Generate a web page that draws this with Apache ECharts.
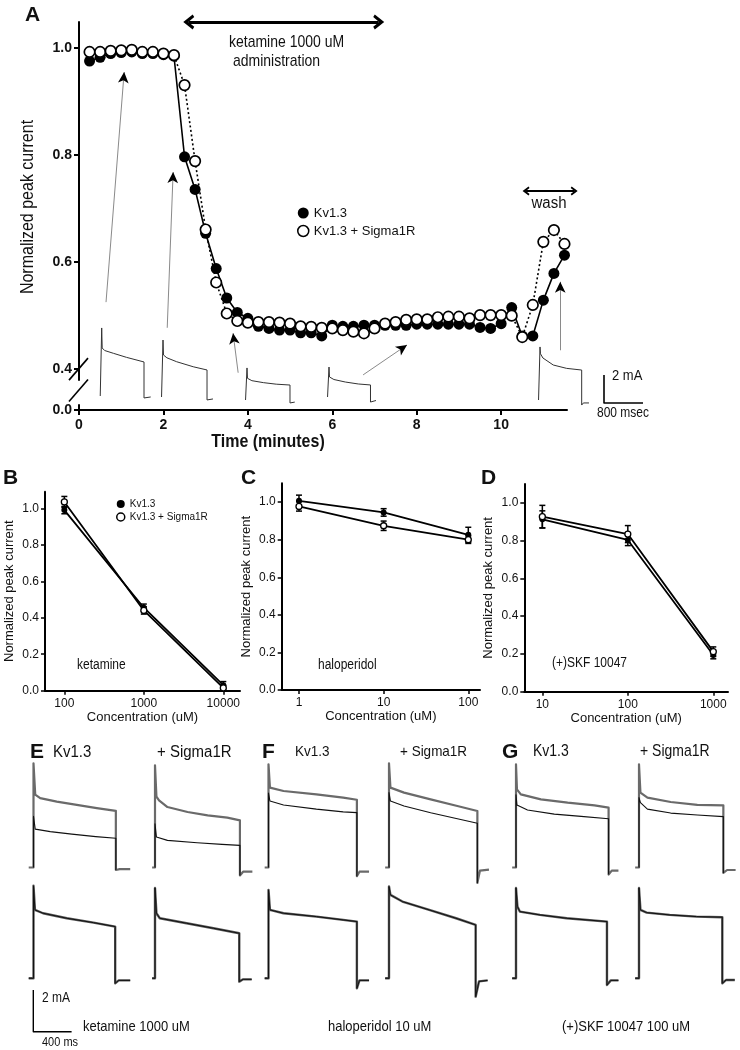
<!DOCTYPE html>
<html>
<head>
<meta charset="utf-8">
<script src="https://cdn.jsdelivr.net/npm/echarts@6.0.0/dist/echarts.min.js"></script>
<style>
html,body{margin:0;padding:0;background:#fff;}
#chart{width:740px;height:1050px;}
</style>
</head>
<body>
<div id="chart"></div>
<script>
// ================= DATA =================
// Panel A: normalized peak current vs time (minutes)
const timeA = [0.25,0.5,0.75,1.0,1.25,1.5,1.75,2.0,2.25,2.5,2.75,3.0,3.25,3.5,3.75,4.0,4.25,4.5,4.75,5.0,5.25,5.5,5.75,6.0,6.25,6.5,6.75,7.0,7.25,7.5,7.75,8.0,8.25,8.5,8.75,9.0,9.25,9.5,9.75,10.0,10.25,10.5,10.75,11.0,11.25,11.5];
const kvA  = [0.976,0.983,0.990,0.992,0.993,0.990,0.990,0.988,0.985,0.797,0.736,0.654,0.588,0.533,0.506,0.495,0.480,0.476,0.473,0.473,0.468,0.468,0.462,0.482,0.480,0.480,0.482,0.482,0.482,0.482,0.482,0.484,0.484,0.484,0.484,0.484,0.484,0.478,0.476,0.485,0.515,0.462,0.462,0.529,0.579,0.613];
const sigA = [0.993,0.993,0.995,0.996,0.997,0.993,0.993,0.990,0.987,0.931,0.789,0.661,0.562,0.504,0.490,0.487,0.488,0.488,0.487,0.485,0.480,0.479,0.477,0.476,0.473,0.470,0.467,0.476,0.485,0.488,0.492,0.493,0.493,0.497,0.498,0.498,0.495,0.501,0.501,0.501,0.500,0.460,0.520,0.638,0.660,0.634];
const xTicksA = [0, 2, 4, 6, 8, 10];
const yTicksA = [0, 0.4, 0.6, 0.8, 1.0];
// annotation arrows of panel A, in (minutes, normalized current)
const traceArrowsA = [[[0.64,0.525],[1.07,0.955]],[[2.09,0.477],[2.23,0.768]],[[3.77,0.393],[3.65,0.467]],[[6.73,0.389],[7.77,0.445]],[[11.4,0.435],[11.4,0.563]]];
const ketamineSpanA = [[2.6,1.0486],[7.1,1.0486]];
const washSpanA = [[10.59,0.7327],[11.73,0.7327]];

// Panels B-D: dose response (mean, error)
const yTicksDose = [0, 0.2, 0.4, 0.6, 0.8, 1.0];
const concB = [100, 1000, 10000];
const kvB = [0.99, 0.455, 0.03];    const kvBerr = [0.02, 0.02, 0.02];
const sigB = [1.035, 0.44, 0.015];  const sigBerr = [0.03, 0.02, 0.015];
const concC = [1, 10, 100];
const kvC = [1.007, 0.945, 0.826];  const kvCerr = [0.03, 0.02, 0.04];
const sigC = [0.977, 0.874, 0.80];  const sigCerr = [0.025, 0.025, 0.02];
const concD = [10, 100, 1000];
const kvD = [0.912, 0.803, 0.194];  const kvDerr = [0.045, 0.03, 0.02];
const sigD = [0.926, 0.834, 0.212]; const sigDerr = [0.06, 0.045, 0.025];

// Current traces [time ms, current mA]
const trA1 = [[-30,0],[0,0],[0,4.86],[10,3.43],[60,3.25],[240,3.05],[510,2.76],[868,2.43],[868,-0.14],[900,-0.08],[1005,-0.07]];
const trA2 = [[-30,0],[0,0],[0,4.07],[10,3.0],[80,2.8],[280,2.52],[620,2.16],[903,1.93],[903,-0.21],[940,-0.14],[1025,-0.14]];
const trA3 = [[-30,0],[0,0],[0,2.29],[10,1.55],[100,1.38],[335,1.24],[600,1.13],[882,1.07],[882,-0.21],[920,-0.15],[980,-0.15]];
const trA4 = [[-30,0],[0,0],[0,2.14],[10,1.43],[100,1.25],[335,1.07],[600,0.93],[851,0.86],[851,-0.36],[890,-0.25],[964,-0.25]];
const trA5 = [[-30,0],[0,0],[0,3.79],[10,3.3],[60,3.0],[272,2.5],[546,2.26],[855,2.14],[855,-0.36],[890,-0.21],[1005,-0.21]];
const scaleBarA = [[0,2],[0,0],[800,0]];

const trE_kv_ctrl = [[-50,0],[0,0],[0,5.0],[18,3.5],[70,3.33],[243,3.16],[452,3.0],[661,2.85],[860,2.72],[860,-0.12],[900,-0.08],[1010,-0.08]];
const trE_kv_drug = [[0,0],[0,2.45],[18,1.84],[175,1.72],[400,1.6],[650,1.48],[860,1.4],[860,-0.12]];
const trE_sg_ctrl = [[-30,0],[0,0],[0,4.9],[15,3.4],[42,3.22],[130,2.9],[340,2.66],[550,2.5],[755,2.39],[887,2.26],[887,-0.38],[920,-0.2],[1017,-0.2]];
const trE_sg_drug = [[0,0],[0,2.1],[15,1.46],[130,1.3],[440,1.19],[700,1.11],[887,1.06],[887,-0.38]];
const trF_kv_ctrl = [[-40,0],[0,0],[0,4.95],[15,3.83],[157,3.67],[500,3.51],[780,3.35],[923,3.25],[923,-0.42],[950,-0.2],[1050,-0.2]];
const trF_kv_drug = [[0,0],[0,3.57],[15,3.19],[157,3.0],[500,2.8],[780,2.67],[923,2.63],[923,-0.42]];
const trF_sg_ctrl = [[-40,0],[0,0],[0,5.0],[15,3.83],[157,3.59],[435,3.27],[714,2.95],[923,2.71],[923,-0.74],[950,-0.15],[1044,-0.1]];
const trF_sg_drug = [[0,0],[0,3.59],[15,3.19],[157,2.95],[435,2.63],[714,2.34],[923,2.12],[923,-0.74]];
const trG_kv_ctrl = [[-40,0],[0,0],[0,4.95],[10,3.75],[50,3.51],[260,3.27],[540,3.11],[820,2.98],[967,2.87],[967,-0.34],[1000,-0.15],[1070,-0.15]];
const trG_kv_drug = [[0,0],[0,3.49],[10,3.0],[120,2.76],[400,2.56],[680,2.45],[967,2.34],[967,-0.34]];
const trG_sg_ctrl = [[-40,0],[0,0],[0,4.95],[15,3.59],[88,3.35],[331,3.14],[609,3.0],[881,2.98],[881,-0.26],[920,-0.12],[1009,-0.12]];
const trG_sg_drug = [[0,0],[0,3.35],[15,3.11],[88,2.8],[331,2.61],[609,2.52],[881,2.44],[881,-0.26]];
const trE_kv_low = [[-50,0],[0,0],[0,4.44],[15,3.28],[100,3.12],[348,2.88],[626,2.67],[853,2.48],[853,-0.24],[890,-0.1],[1010,-0.1]];
const trE_sg_low = [[-30,0],[0,0],[0,4.33],[15,3.12],[50,2.88],[330,2.64],[610,2.4],[880,2.16],[880,-0.16],[920,-0.05],[1010,-0.05]];
const trF_kv_low = [[-40,0],[0,0],[0,4.24],[15,3.28],[157,3.12],[500,2.96],[780,2.8],[923,2.72],[923,-0.48],[950,-0.1],[1050,-0.1]];
const trF_sg_low = [[-40,0],[0,0],[0,4.4],[15,4.0],[140,3.68],[420,3.28],[700,2.88],[905,2.56],[905,-0.88],[940,-0.15],[1030,-0.1]];
const trG_kv_low = [[-40,0],[0,0],[0,4.33],[15,3.44],[40,3.2],[250,3.04],[530,2.88],[950,2.72],[950,-0.32],[990,-0.1],[1070,-0.1]];
const trG_sg_low = [[-40,0],[0,0],[0,4.33],[15,3.28],[80,3.15],[320,3.04],[600,2.96],[870,2.93],[870,-0.24],[910,-0.08],[1000,-0.08]];
const scaleBarE = [[0,2],[0,0],[400,0]];

// ================= BUILD =================
const FONT = "'Liberation Sans', Arial, Helvetica, sans-serif";
const INK = '#111';
const grids = [], xAxes = [], yAxes = [], series = [];
function addGrid(rect, xa, ya) {
  grids.push(Object.assign({containLabel:false, outerBoundsMode:'none'}, rect));
  const gi = grids.length - 1;
  xAxes.push(Object.assign({gridIndex:gi}, xa));
  yAxes.push(Object.assign({gridIndex:gi}, ya));
  return gi;
}
function axLine(w){ return {show:true, onZero:false, lineStyle:{color:'#000', width:w}}; }

// ---- Panel A main plot (grid 0)
addGrid({left:79, top:22, width:488, height:388},
  {type:'value', min:0, max:11.56,
   axisLine:axLine(2),
   axisTick:{show:true, inside:false, length:5, customValues:xTicksA, lineStyle:{color:'#000', width:2}},
   axisLabel:{customValues:xTicksA, fontSize:14, fontWeight:'bold', color:INK, fontFamily:FONT, margin:8},
   splitLine:{show:false}},
  {type:'value', min:0, max:1.049,
   breaks:[{start:0.01, end:0.38, gap:'6.4%'}],
   breakArea:{show:false},
   axisLine:axLine(2),
   axisTick:{show:true, inside:false, length:5, customValues:yTicksA, lineStyle:{color:'#000', width:2}},
   axisLabel:{customValues:yTicksA, formatter:v=>v.toFixed(1), fontSize:14, fontWeight:'bold', color:INK, fontFamily:FONT, margin:7},
   splitLine:{show:false}});
series.push({name:'Kv1.3', type:'line', xAxisIndex:0, yAxisIndex:0,
  data:timeA.map((t,i)=>[t,kvA[i]]), symbol:'circle', symbolSize:11, showAllSymbol:true,
  itemStyle:{color:'#000'}, lineStyle:{color:'#000', width:1.6}, z:3, animation:false});
series.push({name:'Kv1.3 + Sigma1R', type:'line', xAxisIndex:0, yAxisIndex:0,
  data:timeA.map((t,i)=>[t,sigA[i]]), symbol:'circle', symbolSize:10.5, showAllSymbol:true,
  itemStyle:{color:'#fff', borderColor:'#000', borderWidth:1.7}, lineStyle:{color:'#000', width:1.6, type:[2,2.5]}, z:4, animation:false});

// ---- Panel A annotation overlay (grid 1), linear in the unbroken range
const pxPerMin = 488/11.56, pxPerUnit = 535;
addGrid({left:79, top:0, width:600, height:410},
  {type:'value', min:0, max:600/pxPerMin, show:false},
  {type:'value', min:1-362/pxPerUnit, max:1+48/pxPerUnit, show:false});
const chevron = 'path://M0,12 L10,0 L20,12 L16.5,14 L10,6.5 L3.5,14 Z';
series.push({type:'line', xAxisIndex:1, yAxisIndex:1, data:[], silent:true, animation:false, z:2,
  markLine:{silent:true, animation:false, symbol:['none','none'], label:{show:false},
    lineStyle:{color:'#8a8a8a', width:1, type:'solid'}, emphasis:{disabled:true},
    data:traceArrowsA.map(a=>[{coord:a[0]},{coord:a[1]}])}});
series.push({type:'line', xAxisIndex:1, yAxisIndex:1, data:[], silent:true, animation:false, z:3,
  markLine:{silent:true, animation:false, symbol:['none','arrow'], symbolSize:[8,11], label:{show:false},
    lineStyle:{color:'#000', width:0, type:'solid'}, emphasis:{disabled:true},
    data:traceArrowsA.map(a=>[{coord:a[0]},{coord:a[1]}])}});
series.push({type:'line', xAxisIndex:1, yAxisIndex:1, data:[], silent:true, animation:false,
  markLine:{silent:true, animation:false, symbol:[chevron, chevron], symbolSize:[15,11], label:{show:false},
    lineStyle:{color:'#000', width:3, type:'solid'}, emphasis:{disabled:true},
    data:[[{coord:ketamineSpanA[0]},{coord:ketamineSpanA[1]}]]}});
series.push({type:'line', xAxisIndex:1, yAxisIndex:1, data:[], silent:true, animation:false,
  markLine:{silent:true, animation:false, symbol:[chevron, chevron], symbolSize:[9,7], label:{show:false},
    lineStyle:{color:'#000', width:2, type:'solid'}, emphasis:{disabled:true},
    data:[[{coord:washSpanA[0]},{coord:washSpanA[1]}]]}});

// ---- Panels B, C, D
function dosePanel(rect, xr, yMax, conc, kv, kvE, sg, sgE) {
  const gi = addGrid(rect,
    {type:'log', logBase:10, min:xr[0], max:xr[1],
     axisLine:axLine(2),
     axisTick:{show:true, inside:false, length:4, customValues:conc, lineStyle:{color:'#000', width:1.5}},
     minorTick:{show:false},
     axisLabel:{customValues:conc, formatter:v=>String(Math.round(v)), fontSize:12, color:INK, fontFamily:FONT, margin:7},
     splitLine:{show:false},
     name:'Concentration (uM)', nameLocation:'middle', nameGap:20,
     nameTextStyle:{fontSize:13, color:INK, fontFamily:FONT, verticalAlign:'top'}},
    {type:'value', min:0, max:yMax,
     axisLine:axLine(2),
     axisTick:{show:true, inside:false, length:4, customValues:yTicksDose, lineStyle:{color:'#000', width:1.5}},
     axisLabel:{customValues:yTicksDose, formatter:v=>v.toFixed(1), fontSize:12, color:INK, fontFamily:FONT, margin:6},
     splitLine:{show:false},
     name:'Normalized peak current', nameLocation:'middle', nameGap:29,
     nameTextStyle:{fontSize:13, color:INK, fontFamily:FONT}});
  const err = (ys, es) => ({type:'custom', xAxisIndex:gi, yAxisIndex:gi, silent:true, animation:false, z:5,
    data: conc.map((c,i)=>[c, ys[i], es[i]]),
    renderItem:(params, api)=>{
      const x = api.value(0), y = api.value(1), e = api.value(2);
      const hi = api.coord([x, y+e]), lo = api.coord([x, y-e]), w = 3;
      const st = {stroke:'#000', lineWidth:1.5};
      return {type:'group', children:[
        {type:'line', shape:{x1:hi[0], y1:hi[1], x2:lo[0], y2:lo[1]}, style:st},
        {type:'line', shape:{x1:hi[0]-w, y1:hi[1], x2:hi[0]+w, y2:hi[1]}, style:st},
        {type:'line', shape:{x1:lo[0]-w, y1:lo[1], x2:lo[0]+w, y2:lo[1]}, style:st}]};
    }});
  series.push(err(kv, kvE), err(sg, sgE));
  series.push({name:'Kv1.3', type:'line', xAxisIndex:gi, yAxisIndex:gi, data:conc.map((c,i)=>[c,kv[i]]),
    symbol:'circle', symbolSize:6, itemStyle:{color:'#000'}, lineStyle:{color:'#000', width:1.8}, z:6, animation:false});
  series.push({name:'Kv1.3 + Sigma1R', type:'line', xAxisIndex:gi, yAxisIndex:gi, data:conc.map((c,i)=>[c,sg[i]]),
    symbol:'circle', symbolSize:6, itemStyle:{color:'#fff', borderColor:'#000', borderWidth:1.3}, lineStyle:{color:'#000', width:1.8}, z:7, animation:false});
}
dosePanel({left:45, top:491.7, width:195, height:199}, [57.1, 16218], 1.091, concB, kvB, kvBerr, sigB, sigBerr);
dosePanel({left:281.7, top:483.3, width:198.3, height:206.7}, [0.625, 137.5], 1.10, concC, kvC, kvCerr, sigC, sigCerr);
dosePanel({left:524.3, top:484, width:203.7, height:207.7}, [6.15, 1486], 1.099, concD, kvD, kvDerr, sigD, sigDerr);

// ---- Current traces
const SC_A = {ms:39/800, mA:28/2};
const SC_E = {ms:38.3/400, mA:41.7/2};
const T_X = [-80, 1120], T_Y = [-1.5, 5.5];
function traceGrid(x0, base, sc) {
  return addGrid({left:x0 + T_X[0]*sc.ms, top:base - T_Y[1]*sc.mA, width:(T_X[1]-T_X[0])*sc.ms, height:(T_Y[1]-T_Y[0])*sc.mA},
    {type:'value', min:T_X[0], max:T_X[1], show:false},
    {type:'value', min:T_Y[0], max:T_Y[1], show:false});
}
function traceLine(gi, data, color, width, z) {
  series.push({type:'line', xAxisIndex:gi, yAxisIndex:gi, data, symbol:'none', silent:true, animation:false,
    lineStyle:{color, width, join:'round'}, z});
}
[[trA1,101.7,396],[trA2,163,397],[trA3,247,400],[trA4,329,397],[trA5,540,400]].forEach(([d,x0,b])=>{
  traceLine(traceGrid(x0,b,SC_A), d, '#333', 1, 2);
});
traceLine(traceGrid(604,403,SC_A), scaleBarA, '#000', 1.6, 2);

const colX = [33.5, 155, 268.5, 389, 516, 639];
const rowBase = [867.5, 978.3];
const topPairs = [[trE_kv_ctrl,trE_kv_drug],[trE_sg_ctrl,trE_sg_drug],[trF_kv_ctrl,trF_kv_drug],[trF_sg_ctrl,trF_sg_drug],[trG_kv_ctrl,trG_kv_drug],[trG_sg_ctrl,trG_sg_drug]];
const lowTraces = [trE_kv_low, trE_sg_low, trF_kv_low, trF_sg_low, trG_kv_low, trG_sg_low];
topPairs.forEach(([c,d],i)=>{
  const gi = traceGrid(colX[i], rowBase[0], SC_E);
  traceLine(gi, c, '#6a6a6a', 2.2, 2);
  traceLine(gi, d, '#111', 1.1, 3);
});
lowTraces.forEach((d,i)=>{
  const gi = traceGrid(colX[i], rowBase[1], SC_E);
  traceLine(gi, d, '#5a5a5a', 2.4, 2);
  traceLine(gi, d, '#111', 1.0, 3);
});
traceLine(traceGrid(33.3, 1031.7, SC_E), scaleBarE, '#000', 1.4, 2);

// ---- Text (labels drawn slightly condensed like the source figure)
const K = 1.15;
const T = (text, x, y, size, weight, align, extra, noCondense) => {
  const k = noCondense ? 1 : K;
  return Object.assign({type:'text', x, y, silent:true, z:50, scaleX:1/k,
    style:{text, fontSize:size*k, fontWeight:weight||'normal', fontFamily:FONT, fill:INK, align:align||'left', verticalAlign:'middle'}}, extra||{});
};
const L = (text, x, y) => T(text, x, y, 21, 'bold', 'left', null, true);
const texts = [
  L('A',25,15), L('B',3,478), L('C',241,478), L('D',481,478),
  L('E',30,752), L('F',262,752), L('G',502,752),
  T('ketamine 1000 uM',229,43,14), T('administration',233,62,14),
  T('wash',549,203,15,'normal','center'),
  T('2 mA',612,376,13), T('800 msec',597,413,12),
  T('Time (minutes)',268,442,16,'bold','center'),
  T('Normalized peak current',28,207,16,'normal','center',{rotation:Math.PI/2}),
  T('ketamine',77,665,12), T('haloperidol',318,665,12), T('(+)SKF 10047',552,663,12),
  T('Kv1.3',53,752,15), T('+ Sigma1R',157,752,15),
  T('Kv1.3',295,752,13.5), T('+ Sigma1R',400,752,13.5),
  T('Kv1.3',533,752,14), T('+ Sigma1R',640,752,14),
  T('2 mA',42,998,12), T('400 ms',42,1043,11),
  T('ketamine 1000 uM',83,1027,13), T('haloperidol 10 uM',328,1027,13), T('(+)SKF 10047 100 uM',562,1027,13)
];

const legendItems = [{name:'Kv1.3', itemStyle:{color:'#000'}}, {name:'Kv1.3 + Sigma1R', itemStyle:{color:'#fff', borderColor:'#000', borderWidth:1.5}}];
const chart = echarts.init(document.getElementById('chart'), null, {renderer:'canvas'});
chart.setOption({
  animation:false,
  backgroundColor:'#fff',
  textStyle:{fontFamily:FONT},
  grid:grids, xAxis:xAxes, yAxis:yAxes, series,
  legend:[
    {left:292, top:201.5, orient:'vertical', icon:'circle', itemWidth:11, itemHeight:11, itemGap:5, selectedMode:false,
     data:legendItems, textStyle:{fontSize:13, color:INK, fontFamily:FONT}},
    {left:111, top:494, orient:'vertical', icon:'circle', itemWidth:8, itemHeight:8, itemGap:3, selectedMode:false,
     data:legendItems, textStyle:{fontSize:10, color:INK, fontFamily:FONT}}
  ]
});
// axis-break slashes, placed from the axis scale
let slashes = [];
try {
  const p = chart.convertToPixel({gridIndex:0}, [0, 0.4]);
  const q = chart.convertToPixel({gridIndex:0}, [0, 0.0]);
  const mid = (p[1] + q[1]) / 2;
  [p[1], mid + 1].forEach(y=>{
    slashes.push({type:'line', silent:true, z:50, shape:{x1:p[0]-10, y1:y+11, x2:p[0]+9, y2:y-11}, style:{stroke:'#000', lineWidth:1.6}});
  });
} catch(e) {}
chart.setOption({graphic:[{elements: texts.concat(slashes)}]});
</script>
</body>
</html>
